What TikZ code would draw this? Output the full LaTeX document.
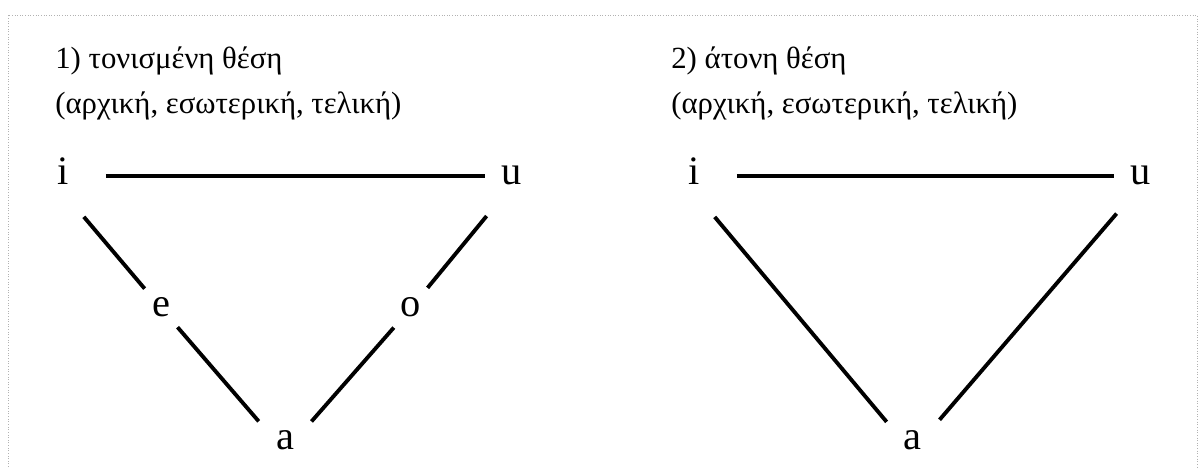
\documentclass[tikz,border=0pt]{standalone}
\usepackage{fontspec}
\setmainfont{Liberation Serif}
\usepackage{tikz}

\begin{document}
\begin{tikzpicture}[x=0.02cm, y=-0.02cm,
  vowel/.style={inner sep=0pt, text height=10pt, text depth=0pt, font=\fontsize{23}{27}\selectfont},
  midvowel/.style={vowel, circle, inner sep=5pt},
  title/.style={anchor=base west, inner sep=0pt, font=\fontsize{17.5}{20}\selectfont},
  bar/.style={line width=2.4pt},
  leg/.style={line width=2.2pt},
  frame/.style={gray!60, densely dotted, line width=0.5pt}]
  \useasboundingbox (0,0) rectangle (1203,467);
  \draw[frame] (8,467) -- (8,15) -- (1197,15) -- (1197,467);
  % Panel 1: stressed position
  \node[title] (t1a) at (55,68)  {1) τονισμένη θέση};
  \node[title] (t1b) at (55,113) {(αρχική, εσωτερική, τελική)};
  \node[vowel] (iL) at (63,176)  {i};
  \node[vowel] (uL) at (512,176) {u};
  \node[midvowel] (eL) at (161,308) {e};
  \node[midvowel] (oL) at (411,308) {o};
  \node[vowel] (aL) at (285,441) {a};
  \draw[bar, shorten <=0.74cm, shorten >=0.34cm] (iL.east) -- (uL.west);
  \draw[leg, shorten <=0.83cm] (iL.south west) -- (eL);
  \draw[leg, shorten >=0.52cm] (eL) -- (aL.west);
  \draw[leg, shorten <=0.8cm] (uL.south) -- (oL);
  \draw[leg, shorten >=0.52cm] (oL) -- (aL.east);
  % Panel 2: unstressed position
  \node[title] (t2a) at (671,68)  {2) άτονη θέση};
  \node[title] (t2b) at (671,113) {(αρχική, εσωτερική, τελική)};
  \node[vowel] (iR) at (694,176)  {i};
  \node[vowel] (uR) at (1141,176) {u};
  \node[vowel] (aR) at (912,441)  {a};
  \draw[bar, shorten <=0.74cm, shorten >=0.34cm] (iR.east) -- (uR.west);
  \draw[leg, shorten <=0.83cm, shorten >=0.5cm] (iR.south west) -- (aR.west);
  \draw[leg, shorten <=0.75cm, shorten >=0.56cm] (uR.south) -- (aR.east);
\end{tikzpicture}
\end{document}
